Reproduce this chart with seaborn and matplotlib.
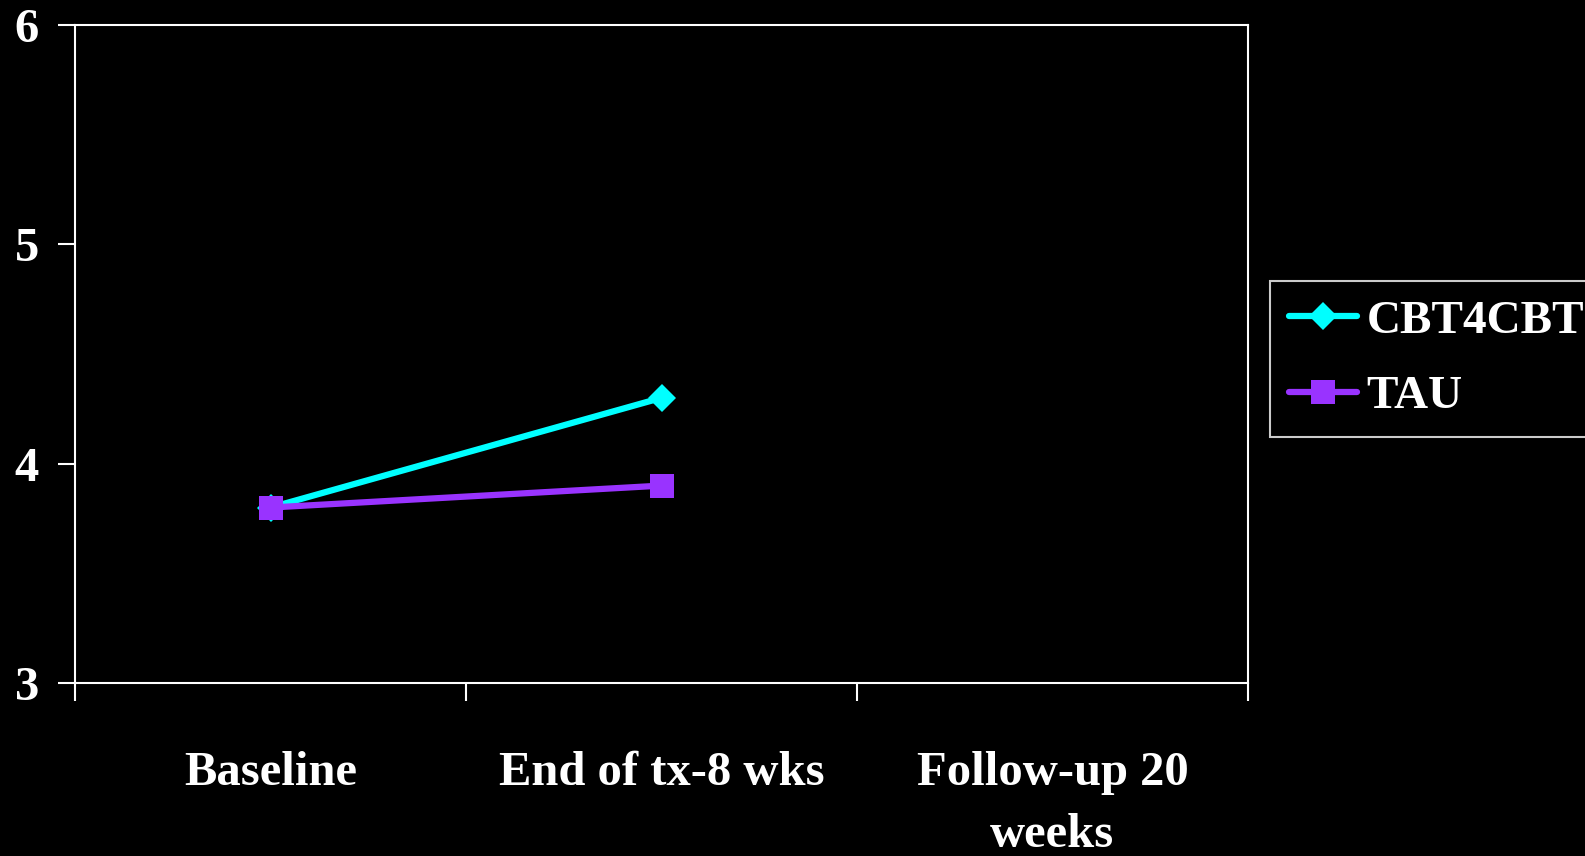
import numpy as np
import pandas as pd
import matplotlib
matplotlib.use("Agg")
import matplotlib.pyplot as plt
from matplotlib.lines import Line2D
import seaborn as sns

# Data
categories = ["Baseline", "End of tx-8 wks", "Follow-up 20\nweeks"]
cbt4cbt = [3.8, 4.3, np.nan]
tau = [3.8, 3.9, np.nan]
groups = ["CBT4CBT", "TAU"]
y_ticks = [3, 4, 5, 6]

sns.set_theme(style="dark")
plt.rcParams["font.family"] = ["Liberation Serif", "DejaVu Serif"]
plt.rcParams["font.weight"] = "bold"

FS = 35

df = pd.DataFrame({
    "pos": list(range(len(categories))) * 2,
    "value": cbt4cbt + tau,
    "group": [groups[0]] * len(categories) + [groups[1]] * len(categories),
}).dropna()

fig = plt.figure(figsize=(15.85, 8.56), dpi=100, facecolor="black")
ax = fig.add_axes([75 / 1585, 1 - 683 / 856, (1248 - 75) / 1585, (683 - 25) / 856])
ax.set_facecolor("black")

palette = {"CBT4CBT": "#00FFFF", "TAU": "#9933FF"}
markers = {"CBT4CBT": "D", "TAU": "s"}
msize = {"CBT4CBT": 14.5, "TAU": 17}
sns.lineplot(data=df, x="pos", y="value", hue="group", style="group",
             palette=palette, markers=markers, dashes=False,
             linewidth=4.5, markeredgewidth=0, ax=ax, legend=False)
for line in ax.lines:
    line.set_markersize(17 if line.get_marker() == "s" else 14.5)

ax.set_xlim(-0.5, len(categories) - 0.5)
ax.set_ylim(y_ticks[0], y_ticks[-1])
ax.set_xlabel("")
ax.set_ylabel("")
ax.grid(False)

# Category labels centred between boundary ticks
ax.set_xticks(np.arange(-0.5, len(categories), 1.0))
ax.set_xticklabels([])
ax.set_xticks(range(len(categories)), minor=True)
ax.set_xticklabels(categories, minor=True, fontsize=FS, fontweight="bold",
                   color="white", linespacing=1.52)
ax.tick_params(axis="x", which="minor", length=0, pad=49)
ax.tick_params(axis="x", which="major", direction="out", length=13,
               width=1.5, color="white", bottom=True)

ax.set_yticks(y_ticks)
ax.set_yticklabels([str(t) for t in y_ticks], fontsize=FS, fontweight="bold",
                   color="white")
ax.tick_params(axis="y", direction="out", length=12, width=1.5,
               color="white", pad=14, left=True)

for sp in ax.spines.values():
    sp.set_color("white")
    sp.set_linewidth(1.5)
    sp.set_visible(True)

# Legend
handles = [
    Line2D([], [], color=palette[g], marker=markers[g], linewidth=4.5,
           markersize=msize[g], markeredgewidth=0, solid_capstyle="round")
    for g in groups
]
leg = fig.legend(handles, groups, loc="upper left",
                 bbox_to_anchor=(1270 / 1585, 1 - 281 / 856),
                 frameon=True, facecolor="black", edgecolor="white",
                 fancybox=False, handlelength=1.45, handletextpad=0.2,
                 borderpad=0.4, labelspacing=0.68, borderaxespad=0,
                 prop={"family": "Liberation Serif", "weight": "bold", "size": 34})
leg.get_frame().set_linewidth(1.5)
for t in leg.get_texts():
    t.set_color("white")

fig.savefig("out.png", dpi=100, facecolor="black")
